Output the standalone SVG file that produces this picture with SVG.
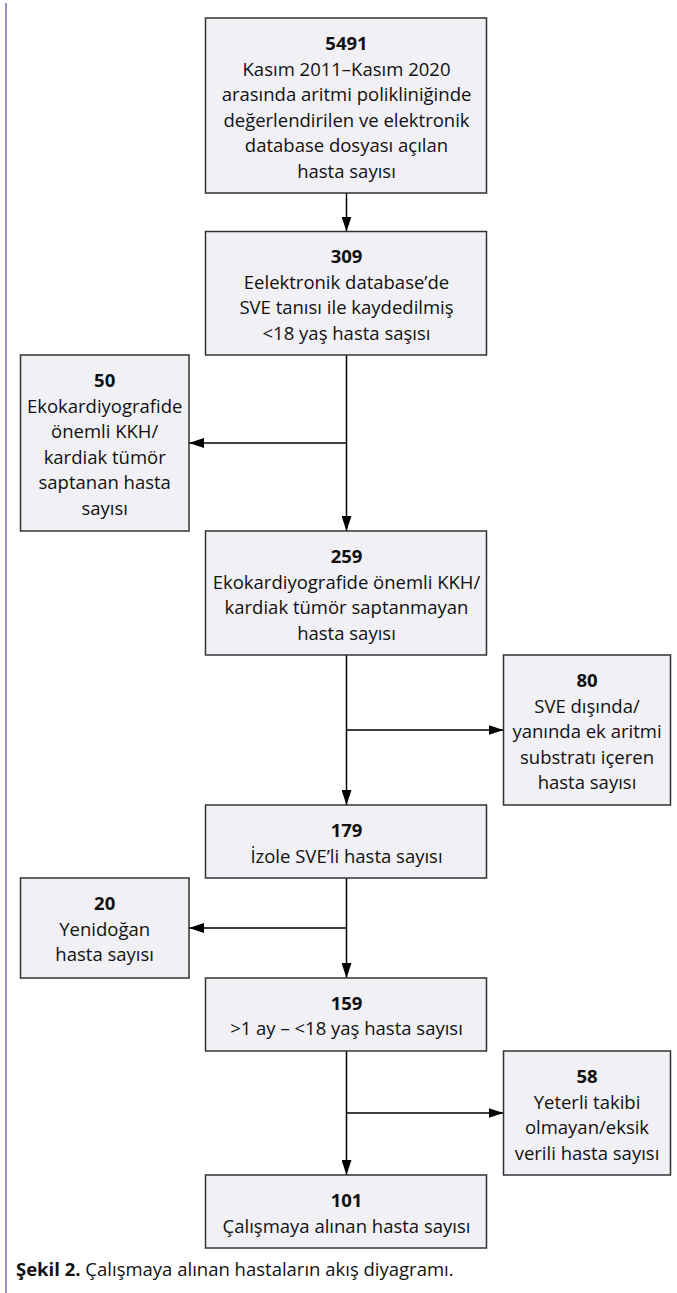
<svg xmlns="http://www.w3.org/2000/svg" width="677" height="1293" viewBox="0 0 677 1293">
<style>
.box{fill:#f0f0f5;stroke:#333;stroke-width:1.5}
.t{font-family:"Open Sans","Noto Sans",sans-serif;font-size:18.5px;fill:#111;text-anchor:middle}
.b{font-weight:bold}
.cap{font-family:"Open Sans","Noto Sans",sans-serif;font-size:18.5px;fill:#111}
.ln{stroke:#000;stroke-width:1.5;fill:none}
.ar{marker-end:url(#ah)}
</style>
<defs>
<linearGradient id="topg" x1="0" y1="0" x2="1" y2="0">
<stop offset="0" stop-color="#9a80c2"/>
<stop offset="0.7" stop-color="#a9d3d6"/>
<stop offset="1" stop-color="#e6b46c"/>
</linearGradient>
<marker id="ah" markerUnits="userSpaceOnUse" markerWidth="15" markerHeight="10" viewBox="0 0 15 10" refX="15" refY="5" orient="auto">
<path d="M0,0 L15,5 L0,10 z" fill="#000"/>
</marker>
</defs>
<rect width="677" height="1293" fill="#fff"/>
<g id="frame">
<line x1="5" y1="4" x2="677" y2="4" stroke="url(#topg)" stroke-width="2"/>
<line x1="6" y1="3" x2="6" y2="1293" stroke="#a08cc8" stroke-width="2"/>
</g>
<g id="connectors">
<line class="ln ar" x1="346.5" y1="193" x2="346.5" y2="231.5"/>
<line class="ln ar" x1="346.5" y1="355" x2="346.5" y2="531"/>
<line class="ln ar" x1="346.5" y1="443" x2="189" y2="443"/>
<line class="ln ar" x1="346.5" y1="655" x2="346.5" y2="805"/>
<line class="ln ar" x1="346.5" y1="730" x2="503.5" y2="730"/>
<line class="ln ar" x1="346.5" y1="878" x2="346.5" y2="978"/>
<line class="ln ar" x1="346.5" y1="928" x2="189" y2="928"/>
<line class="ln ar" x1="346.5" y1="1051" x2="346.5" y2="1175"/>
<line class="ln ar" x1="346.5" y1="1113" x2="503.5" y2="1113"/>
</g>
<g id="n5491">
<rect class="box" x="205.5" y="18" width="281" height="175"/>
<text class="t b" x="346.5" y="50">5491</text>
<text class="t" x="346.5" y="75.6">Kasım 2011–Kasım 2020</text>
<text class="t" x="346.5" y="101.2">arasında aritmi polikliniğinde</text>
<text class="t" x="346.5" y="126.8">değerlendirilen ve elektronik</text>
<text class="t" x="346.5" y="152.4">database dosyası açılan</text>
<text class="t" x="346.5" y="178">hasta sayısı</text>
</g>
<g id="n309">
<rect class="box" x="205.5" y="231.5" width="281" height="123.5"/>
<text class="t b" x="346.5" y="263">309</text>
<text class="t" x="346.5" y="288.6">Eelektronik database’de</text>
<text class="t" x="346.5" y="314.2">SVE tanısı ile kaydedilmiş</text>
<text class="t" x="346.5" y="339.8">&lt;18 yaş hasta saşısı</text>
</g>
<g id="n50">
<rect class="box" x="20.5" y="355" width="168.5" height="176"/>
<text class="t b" x="104.7" y="387">50</text>
<text class="t" x="104.7" y="412.6">Ekokardiyografide</text>
<text class="t" x="104.7" y="438.2">önemli KKH/</text>
<text class="t" x="104.7" y="463.8">kardiak tümör</text>
<text class="t" x="104.7" y="489.4">saptanan hasta</text>
<text class="t" x="104.7" y="515">sayısı</text>
</g>
<g id="n259">
<rect class="box" x="205.5" y="531" width="281" height="124"/>
<text class="t b" x="346.5" y="563">259</text>
<text class="t" x="346.5" y="588.6">Ekokardiyografide önemli KKH/</text>
<text class="t" x="346.5" y="614.2">kardiak tümör saptanmayan</text>
<text class="t" x="346.5" y="639.8">hasta sayısı</text>
</g>
<g id="n80">
<rect class="box" x="503.5" y="655" width="167" height="150"/>
<text class="t b" x="587" y="687">80</text>
<text class="t" x="587" y="712.6">SVE dışında/</text>
<text class="t" x="587" y="738.2">yanında ek aritmi</text>
<text class="t" x="587" y="763.8">substratı içeren</text>
<text class="t" x="587" y="789.4">hasta sayısı</text>
</g>
<g id="n179">
<rect class="box" x="205.5" y="805" width="281" height="73"/>
<text class="t b" x="346.5" y="837">179</text>
<text class="t" x="346.5" y="862.6">İzole SVE’li hasta sayısı</text>
</g>
<g id="n20">
<rect class="box" x="20.5" y="878" width="168.5" height="100"/>
<text class="t b" x="104.7" y="910">20</text>
<text class="t" x="104.7" y="935.6">Yenidoğan</text>
<text class="t" x="104.7" y="961.2">hasta sayısı</text>
</g>
<g id="n159">
<rect class="box" x="205.5" y="978" width="281" height="73"/>
<text class="t b" x="346.5" y="1009.5">159</text>
<text class="t" x="346.5" y="1035.1">&gt;1 ay – &lt;18 yaş hasta sayısı</text>
</g>
<g id="n58">
<rect class="box" x="503.5" y="1051" width="167" height="124"/>
<text class="t b" x="587" y="1083">58</text>
<text class="t" x="587" y="1108.6">Yeterli takibi</text>
<text class="t" x="587" y="1134.2">olmayan/eksik</text>
<text class="t" x="587" y="1159.8">verili hasta sayısı</text>
</g>
<g id="n101">
<rect class="box" x="205.5" y="1175" width="281" height="73"/>
<text class="t b" x="346.5" y="1207">101</text>
<text class="t" x="346.5" y="1232.6">Çalışmaya alınan hasta sayısı</text>
</g>
<g id="caption">
<text class="cap" x="16" y="1276"><tspan font-weight="bold">Şekil 2.</tspan> Çalışmaya alınan hastaların akış diyagramı.</text>
</g>
</svg>
